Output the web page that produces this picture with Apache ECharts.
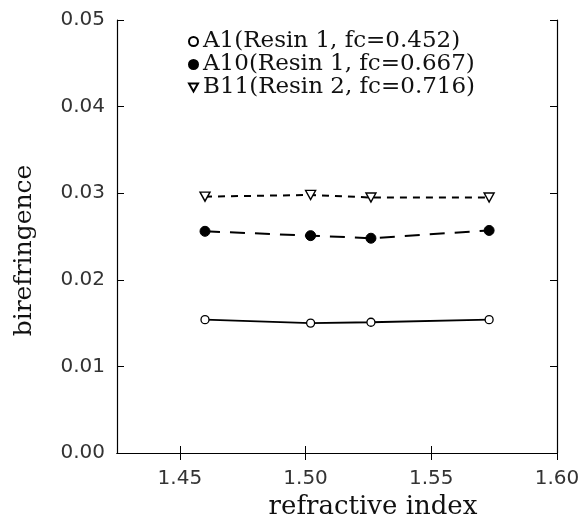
<!DOCTYPE html>
<html>
<head>
<meta charset="UTF-8">
<script src="https://cdn.jsdelivr.net/npm/echarts@6.0.0/dist/echarts.min.js"></script>
<style>
  body { margin: 0; padding: 0; background: #fff; }
  #chart { width: 582px; height: 518px; }
</style>
</head>
<body>
<div id="chart"></div>
<script>
// data
var refrIndex = [1.460, 1.502, 1.526, 1.573];
var a1 = [0.0154, 0.0150, 0.0151, 0.0154];
var a10 = [0.0256, 0.0251, 0.0248, 0.0257];
var b11 = [0.0296, 0.0298, 0.0295, 0.0295];
var seriesNames = ['A1(Resin 1, fc=0.452)', 'A10(Resin 1, fc=0.667)', 'B11(Resin 2, fc=0.716)'];
var xTicks = [1.45, 1.50, 1.55, 1.60];

var triDown = 'path://M0,0L10,0L5,9Z';
var serif = 'DejaVu Serif';
var sans = 'DejaVu Sans';

function pairs(ys) {
  return refrIndex.map(function (x, i) { return [x, ys[i]]; });
}

var axisLine = { show: true, lineStyle: { color: '#000', width: 1.2 } };

var myChart = echarts.init(document.getElementById('chart'));
var option = {
  animation: false,
  backgroundColor: '#fff',
  grid: { left: 117, right: 25, top: 20, bottom: 65, outerBoundsMode: 'none', containLabel: false },
  legend: {
    orient: 'vertical',
    left: 188,
    top: 30,
    padding: 0,
    itemWidth: 9,
    itemHeight: 9,
    itemGap: 0,
    textStyle: { fontFamily: serif, fontSize: 23, color: '#111', lineHeight: 20 },
    data: [
      { name: seriesNames[0], icon: 'circle' },
      { name: seriesNames[1], icon: 'circle' },
      { name: seriesNames[2], icon: triDown }
    ]
  },
  xAxis: [{
    type: 'value',
    min: 1.425,
    max: 1.6,
    name: 'refractive index',
    nameLocation: 'middle',
    nameGap: 35,
    nameTextStyle: { fontFamily: serif, fontSize: 26, color: '#111', padding: [0, 0, 0, 72] },
    axisLine: axisLine,
    axisTick: { inside: true, length: 7, customValues: xTicks, lineStyle: { color: '#000' } },
    axisLabel: {
      customValues: xTicks, margin: 16,
      fontFamily: sans, fontSize: 20, color: '#333',
      formatter: function (v) { return v.toFixed(2); }
    },
    splitLine: { show: false }
  }, {
    type: 'value',
    position: 'top',
    min: 1.425,
    max: 1.6,
    axisLine: axisLine,
    axisTick: { inside: true, length: 7, customValues: xTicks, lineStyle: { color: '#000' } },
    axisLabel: { show: false },
    splitLine: { show: false }
  }],
  yAxis: [{
    type: 'value',
    min: 0,
    max: 0.05,
    interval: 0.01,
    name: 'birefringence',
    nameLocation: 'middle',
    nameGap: 80,
    nameTextStyle: { fontFamily: serif, fontSize: 25, color: '#111', padding: [0, 28, 0, 0] },
    axisLine: axisLine,
    axisTick: { inside: true, length: 7, lineStyle: { color: '#000' } },
    axisLabel: {
      margin: 12, fontFamily: sans, fontSize: 20, color: '#333',
      formatter: function (v) { return v.toFixed(2); }
    },
    splitLine: { show: false }
  }, {
    type: 'value',
    position: 'right',
    min: 0,
    max: 0.05,
    interval: 0.01,
    axisLine: axisLine,
    axisTick: { inside: true, length: 7, lineStyle: { color: '#000' } },
    axisLabel: { show: false },
    splitLine: { show: false }
  }],
  series: [{
    name: seriesNames[0],
    type: 'line',
    data: pairs(a1),
    symbol: 'circle',
    symbolSize: 8,
    itemStyle: { color: '#fff', borderColor: '#000', borderWidth: 1.3 },
    lineStyle: { color: '#000', width: 1.8, type: 'solid' }
  }, {
    name: seriesNames[1],
    type: 'line',
    data: pairs(a10),
    symbol: 'circle',
    symbolSize: 10,
    itemStyle: { color: '#000', borderColor: '#000', borderWidth: 1 },
    lineStyle: { color: '#000', width: 2, type: [15, 10] }
  }, {
    name: seriesNames[2],
    type: 'line',
    data: pairs(b11),
    symbol: triDown,
    symbolSize: [10, 9],
    itemStyle: { color: '#fff', borderColor: '#000', borderWidth: 1.4 },
    lineStyle: { color: '#000', width: 2, type: [7, 6] }
  }]
};
myChart.setOption(option);
</script>
</body>
</html>
